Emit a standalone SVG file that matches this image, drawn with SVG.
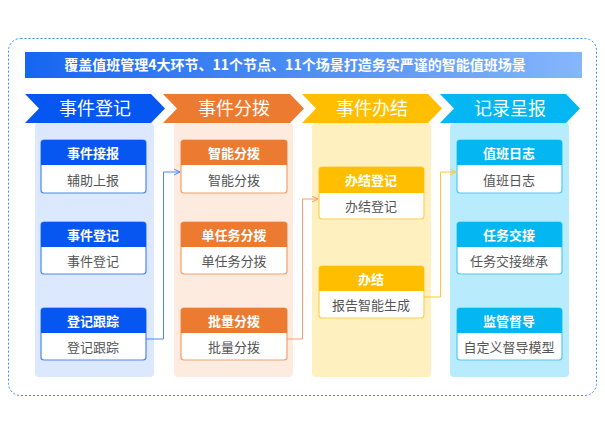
<svg xmlns="http://www.w3.org/2000/svg" width="605" height="428" viewBox="0 0 605 428">
<defs>
<linearGradient id="tg" x1="0" x2="1"><stop offset="0" stop-color="#1566f0"/><stop offset="1" stop-color="#86b6fb"/></linearGradient>
<marker id="ab" markerWidth="8" markerHeight="8" refX="6" refY="3" orient="auto" markerUnits="userSpaceOnUse"><path d="M0,0 L6,3 L0,6" fill="none" stroke="#4c86f5" stroke-width="1"/></marker>
<marker id="ao" markerWidth="8" markerHeight="8" refX="6" refY="3" orient="auto" markerUnits="userSpaceOnUse"><path d="M0,0 L6,3 L0,6" fill="none" stroke="#f3a06a" stroke-width="1"/></marker>
<marker id="ay" markerWidth="8" markerHeight="8" refX="6" refY="3" orient="auto" markerUnits="userSpaceOnUse"><path d="M0,0 L6,3 L0,6" fill="none" stroke="#ffc830" stroke-width="1"/></marker>
</defs>
<style>
text{font-family:"Noto Sans CJK SC","Liberation Sans",sans-serif;text-anchor:middle}
.h{fill:#fff;font-size:13px;font-weight:bold}
.b{fill:#555;font-size:13px}
.c{fill:#fff;font-size:18px}
.body{fill:#fff;stroke-width:1.2}
</style>
<rect x="0" y="0" width="605" height="428" fill="#fff"/>
<rect x="8.5" y="38.5" width="588" height="357" rx="12" fill="none" stroke="#3a8ef0" stroke-dasharray="2,2"/>
<rect x="25" y="52" width="557" height="26" fill="url(#tg)"/>
<text x="295" y="70" class="h" style="font-size:14px">覆盖值班管理4大环节、11个节点、11个场景打造务实严谨的智能值班场景</text>
<rect x="35" y="123" width="119" height="254" rx="4" fill="#dce8fd"/>
<rect x="174" y="123" width="119" height="254" rx="4" fill="#fdebe0"/>
<rect x="312" y="123" width="119" height="254" rx="4" fill="#fff0c0"/>
<rect x="450" y="123" width="119" height="254" rx="4" fill="#b8ecfc"/>
<g id="chevrons">
<path d="M25,94 H151 L165,108.5 L151,123 H25 L39,108.5Z" fill="#0656f2"/>
<path d="M163,94 H290 L304,108.5 L290,123 H163 L177,108.5Z" fill="#ec7b31"/>
<path d="M302,94 H428 L442,108.5 L428,123 H302 L316,108.5Z" fill="#ffbf00"/>
<path d="M440,94 H566 L580,108.5 L566,123 H440 L454,108.5Z" fill="#04b6f2"/>
<text x="95" y="115" class="c">事件登记</text>
<text x="234" y="115" class="c">事件分拨</text>
<text x="372" y="115" class="c">事件办结</text>
<text x="510" y="115" class="c">记录呈报</text>
</g>
<g id="n1"><rect x="41" y="140" width="105" height="53" rx="3" class="body" stroke="#4c86f5"/><path d="M41,165 V143 a3,3 0 0 1 3,-3 H143 a3,3 0 0 1 3,3 V165Z" fill="#0656f2"/><text x="93" y="158" class="h">事件接报</text><text x="93" y="185" class="b">辅助上报</text></g>
<g id="n2"><rect x="41" y="222" width="105" height="52" rx="3" class="body" stroke="#4c86f5"/><path d="M41,247 V225 a3,3 0 0 1 3,-3 H143 a3,3 0 0 1 3,3 V247Z" fill="#0656f2"/><text x="93" y="240" class="h">事件登记</text><text x="93" y="266" class="b">事件登记</text></g>
<g id="n3"><rect x="41" y="308" width="105" height="52" rx="3" class="body" stroke="#4c86f5"/><path d="M41,333 V311 a3,3 0 0 1 3,-3 H143 a3,3 0 0 1 3,3 V333Z" fill="#0656f2"/><text x="93" y="326" class="h">登记跟踪</text><text x="93" y="352" class="b">登记跟踪</text></g>
<g id="n4"><rect x="181" y="140" width="106" height="53" rx="3" class="body" stroke="#f3a06a"/><path d="M181,165 V143 a3,3 0 0 1 3,-3 H284 a3,3 0 0 1 3,3 V165Z" fill="#ec7b31"/><text x="234" y="158" class="h">智能分拨</text><text x="234" y="185" class="b">智能分拨</text></g>
<g id="n5"><rect x="181" y="222" width="106" height="52" rx="3" class="body" stroke="#f3a06a"/><path d="M181,247 V225 a3,3 0 0 1 3,-3 H284 a3,3 0 0 1 3,3 V247Z" fill="#ec7b31"/><text x="234" y="240" class="h">单任务分拨</text><text x="234" y="266" class="b">单任务分拨</text></g>
<g id="n6"><rect x="181" y="308" width="106" height="52" rx="3" class="body" stroke="#f3a06a"/><path d="M181,333 V311 a3,3 0 0 1 3,-3 H284 a3,3 0 0 1 3,3 V333Z" fill="#ec7b31"/><text x="234" y="326" class="h">批量分拨</text><text x="234" y="352" class="b">批量分拨</text></g>
<g id="n7"><rect x="319" y="167" width="105" height="52" rx="3" class="body" stroke="#ffcf50"/><path d="M319,193 V170 a3,3 0 0 1 3,-3 H421 a3,3 0 0 1 3,3 V193Z" fill="#ffbf00"/><text x="371" y="185" class="h">办结登记</text><text x="371" y="211" class="b">办结登记</text></g>
<g id="n8"><rect x="319" y="266" width="105" height="52" rx="3" class="body" stroke="#ffcf50"/><path d="M319,291 V269 a3,3 0 0 1 3,-3 H421 a3,3 0 0 1 3,3 V291Z" fill="#ffbf00"/><text x="371" y="284" class="h">办结</text><text x="371" y="310" class="b">报告智能生成</text></g>
<g id="n9"><rect x="457" y="140" width="105" height="53" rx="3" class="body" stroke="#4fcaf5"/><path d="M457,165 V143 a3,3 0 0 1 3,-3 H559 a3,3 0 0 1 3,3 V165Z" fill="#04b6f2"/><text x="509" y="158" class="h">值班日志</text><text x="509" y="185" class="b">值班日志</text></g>
<g id="n10"><rect x="457" y="222" width="105" height="52" rx="3" class="body" stroke="#4fcaf5"/><path d="M457,247 V225 a3,3 0 0 1 3,-3 H559 a3,3 0 0 1 3,3 V247Z" fill="#04b6f2"/><text x="509" y="240" class="h">任务交接</text><text x="509" y="266" class="b">任务交接继承</text></g>
<g id="n11"><rect x="457" y="308" width="105" height="52" rx="3" class="body" stroke="#4fcaf5"/><path d="M457,333 V311 a3,3 0 0 1 3,-3 H559 a3,3 0 0 1 3,3 V333Z" fill="#04b6f2"/><text x="509" y="326" class="h">监管督导</text><text x="509" y="352" class="b">自定义督导模型</text></g>
<g id="connectors" fill="none" stroke-width="1">
<path d="M146,339 H163.5 V172 H180" stroke="#4c86f5" marker-end="url(#ab)"/>
<path d="M287,339 H302.5 V199 H318" stroke="#f3a06a" marker-end="url(#ao)"/>
<path d="M424,297 H440.5 V172 H456" stroke="#ffc830" marker-end="url(#ay)"/>
</g>
</svg>
